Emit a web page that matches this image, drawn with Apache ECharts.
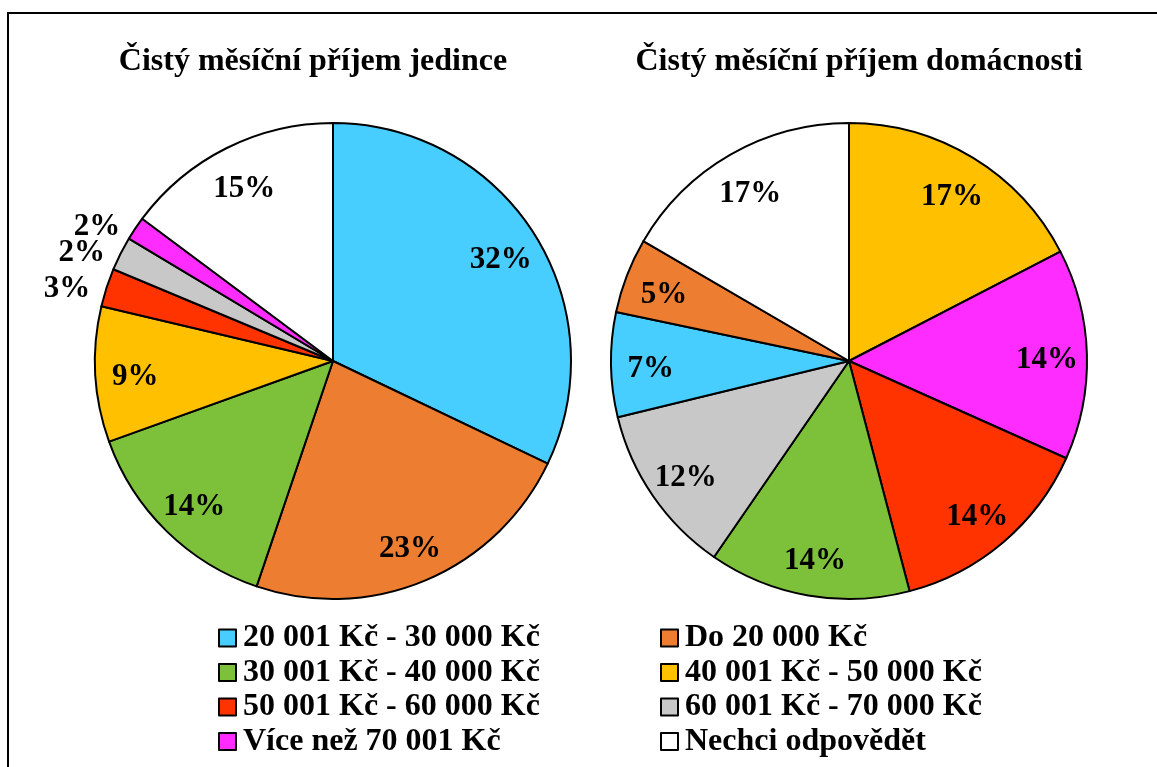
<!DOCTYPE html>
<html>
<head>
<meta charset="utf-8">
<script src="https://cdn.jsdelivr.net/npm/echarts@6/dist/echarts.min.js"></script>
<style>
  html, body { margin: 0; padding: 0; background: #fff; }
  #chart { width: 1157px; height: 767px; }
</style>
</head>
<body>
<div id="chart"></div>
<script>
// categories (legend order) and their fill colours
const categories = [
  '20 001 Kč - 30 000 Kč', 'Do 20 000 Kč',
  '30 001 Kč - 40 000 Kč', '40 001 Kč - 50 000 Kč',
  '50 001 Kč - 60 000 Kč', '60 001 Kč - 70 000 Kč',
  'Více než 70 001 Kč', 'Nechci odpovědět'
];
const colors = ['#48cdff', '#ed7d31', '#7dc13a', '#ffc000', '#ff3300', '#c8c8c8', '#ff2cff', '#ffffff'];

// jedinec - clockwise from 12 o'clock
const indivNames = [
  '20 001 Kč - 30 000 Kč', 'Do 20 000 Kč', '30 001 Kč - 40 000 Kč', '40 001 Kč - 50 000 Kč',
  '50 001 Kč - 60 000 Kč', '60 001 Kč - 70 000 Kč', 'Více než 70 001 Kč', 'Nechci odpovědět'
];
const indivValues = [32.1, 23.1, 14.3, 9.2, 2.6, 2.3, 1.6, 14.8];
const indivOutside = ['50 001 Kč - 60 000 Kč', '60 001 Kč - 70 000 Kč', 'Více než 70 001 Kč'];

// domácnost - clockwise from 12 o'clock
const houseNames = [
  '40 001 Kč - 50 000 Kč', 'Více než 70 001 Kč', '50 001 Kč - 60 000 Kč', '30 001 Kč - 40 000 Kč',
  '60 001 Kč - 70 000 Kč', '20 001 Kč - 30 000 Kč', 'Do 20 000 Kč', 'Nechci odpovědět'
];
const houseValues = [17.4, 14.3, 14.2, 13.7, 11.6, 7.1, 5.1, 16.6];

const titles = ['Čistý měsíční příjem jedince', 'Čistý měsíční příjem domácnosti'];

const FONT = '"Liberation Serif", "Times New Roman", serif';
const R = 238;

function colorOf(name) {
  return colors[categories.indexOf(name)];
}

function slices(names, values) {
  return names.map((n, i) => ({
    name: n,
    value: values[i],
    itemStyle: { color: colorOf(n) }
  }));
}

function labelRing(names, values, outside) {
  return names.map((n, i) => {
    const item = { name: n, value: values[i] };
    if (outside.indexOf(n) >= 0) {
      item.label = { position: 'outside' };
    }
    return item;
  });
}

const pctLabel = p => Math.round(p.percent) + '%';

function mainPie(cx, names, values) {
  return {
    type: 'pie',
    center: [cx, 361],
    radius: [0, R],
    startAngle: 90,
    clockwise: true,
    silent: true,
    label: { show: false },
    labelLine: { show: false },
    itemStyle: { borderColor: '#000', borderWidth: 2 },
    data: slices(names, values)
  };
}

// transparent ring used only to put the % labels at ~0.82 R, like Excel does
function labelPie(cx, names, values, outside) {
  return {
    type: 'pie',
    center: [cx, 361],
    radius: [R * 0.64, R],
    startAngle: 90,
    clockwise: true,
    silent: true,
    avoidLabelOverlap: false,
    itemStyle: { color: 'rgba(0,0,0,0)', borderWidth: 0 },
    label: {
      show: true,
      position: 'inside',
      formatter: pctLabel,
      color: '#000',
      fontFamily: FONT,
      fontWeight: 'bold',
      fontSize: 31
    },
    labelLine: { show: false, length: 12, length2: 0 },
    labelLayout: () => ({ hideOverlap: false, dy: 5 }),
    data: labelRing(names, values, outside)
  };
}

const legendBase = {
  orient: 'vertical',
  icon: 'rect',
  itemWidth: 17,
  itemHeight: 17,
  itemGap: 2.5,
  padding: 0,
  selectedMode: false,
  itemStyle: { borderColor: '#000', borderWidth: 2 },
  textStyle: {
    fontFamily: FONT,
    fontWeight: 'bold',
    fontSize: 32,
    lineHeight: 30,
    color: '#000',
    padding: [0, 0, 0, 2]
  }
};

const chart = echarts.init(document.getElementById('chart'), null, { renderer: 'canvas' });
chart.setOption({
  backgroundColor: '#fff',
  animation: false,
  graphic: [{
    type: 'rect',
    shape: { x: 8, y: 13, width: 1300, height: 900 },
    style: { fill: 'none', stroke: '#000', lineWidth: 2 },
    silent: true
  }],
  title: [
    {
      text: titles[0], left: 313, top: 46, textAlign: 'center', padding: 0,
      textStyle: { fontFamily: FONT, fontWeight: 'bold', fontSize: 32, color: '#000' }
    },
    {
      text: titles[1], left: 859, top: 46, textAlign: 'center', padding: 0,
      textStyle: { fontFamily: FONT, fontWeight: 'bold', fontSize: 32, color: '#000' }
    }
  ],
  legend: [
    Object.assign({}, legendBase, {
      left: 218, top: 622,
      data: [categories[0], categories[2], categories[4], categories[6]]
    }),
    Object.assign({}, legendBase, {
      left: 660, top: 622,
      data: [categories[1], categories[3], categories[5], categories[7]]
    })
  ],
  series: [
    mainPie(333, indivNames, indivValues),
    mainPie(849, houseNames, houseValues),
    labelPie(333, indivNames, indivValues, indivOutside),
    labelPie(849, houseNames, houseValues, [])
  ]
});
</script>
</body>
</html>
